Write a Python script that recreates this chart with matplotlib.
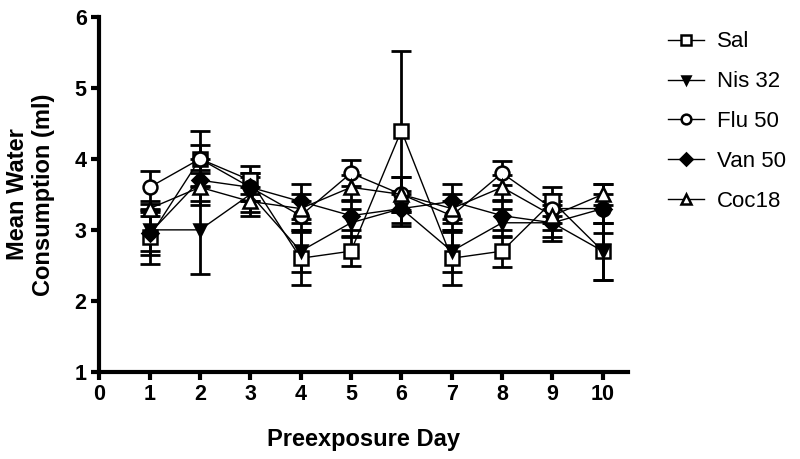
import matplotlib
matplotlib.use("Agg")
import matplotlib.pyplot as plt
import numpy as np

plt.rcParams['font.family'] = ['Liberation Sans', 'DejaVu Sans']

days = [1, 2, 3, 4, 5, 6, 7, 8, 9, 10]
labels = ["Sal", "Nis 32", "Flu 50", "Van 50", "Coc18"]

sal = [2.9, 4.0, 3.7, 2.6, 2.7, 4.4, 2.6, 2.7, 3.4, 2.7]
sal_err = [0.38, 0.4, 0.2, 0.37, 0.21, 1.12, 0.37, 0.22, 0.2, 0.4]
nis = [3.0, 3.0, 3.5, 2.7, 3.1, 3.3, 2.7, 3.1, 3.1, 2.7]
nis_err = [0.3, 0.62, 0.25, 0.3, 0.2, 0.2, 0.3, 0.2, 0.2, 0.4]
flu = [3.6, 4.0, 3.6, 3.2, 3.8, 3.5, 3.2, 3.8, 3.3, 3.3]
flu_err = [0.23, 0.2, 0.2, 0.2, 0.18, 0.25, 0.2, 0.17, 0.2, 0.2]
van = [2.95, 3.7, 3.6, 3.4, 3.2, 3.3, 3.4, 3.2, 3.1, 3.3]
van_err = [0.3, 0.3, 0.2, 0.25, 0.2, 0.25, 0.25, 0.2, 0.25, 0.35]
coc = [3.3, 3.6, 3.4, 3.3, 3.6, 3.5, 3.3, 3.6, 3.2, 3.5]
coc_err = [0.1, 0.25, 0.2, 0.2, 0.18, 0.25, 0.2, 0.18, 0.2, 0.15]

series = [(sal, sal_err, 's', 'white', 10),
          (nis, nis_err, 'v', 'black', 9),
          (flu, flu_err, 'o', 'white', 10),
          (van, van_err, 'D', 'black', 8.5),
          (coc, coc_err, '^', 'white', 10)]

fig = plt.figure(figsize=(8.0, 4.59), dpi=100)
ax = fig.add_axes([0.124, 0.19, 0.661, 0.773])

handles = []
for (vals, errs, mk, fc, ms), lab in zip(series, labels):
    ax.errorbar(days, vals, yerr=errs, fmt='none', ecolor='black',
                elinewidth=2, capsize=7, capthick=2, zorder=2)
    h, = ax.plot(days, vals, color='black', lw=1, marker=mk, markersize=ms,
                 markerfacecolor=fc, markeredgecolor='black', markeredgewidth=1.8,
                 label=lab, zorder=3)
    handles.append(h)

ax.set_xlim(0, 10.5)
ax.set_ylim(1, 6)
ax.set_xticks(range(0, 11))
ax.set_yticks(range(1, 7))
for s in ['top', 'right']:
    ax.spines[s].set_visible(False)
for s in ['left', 'bottom']:
    ax.spines[s].set_linewidth(3)
ax.tick_params(axis='both', width=3, length=6, labelsize=15.5, pad=3)
for t in ax.get_xticklabels() + ax.get_yticklabels():
    t.set_fontweight('bold')

ax.set_xlabel("Preexposure Day", fontsize=17, fontweight='bold', labelpad=16)
ax.set_ylabel("Mean Water\nConsumption (ml)", fontsize=17, fontweight='bold', labelpad=14)

leg = fig.legend(handles=handles, labels=labels, loc='upper left',
                 bbox_to_anchor=(0.81, 0.975), frameon=False, fontsize=16,
                 handlelength=1.6, labelspacing=0.85, handletextpad=0.6,
                 markerscale=0.7)

fig.savefig("out.png", dpi=100)
